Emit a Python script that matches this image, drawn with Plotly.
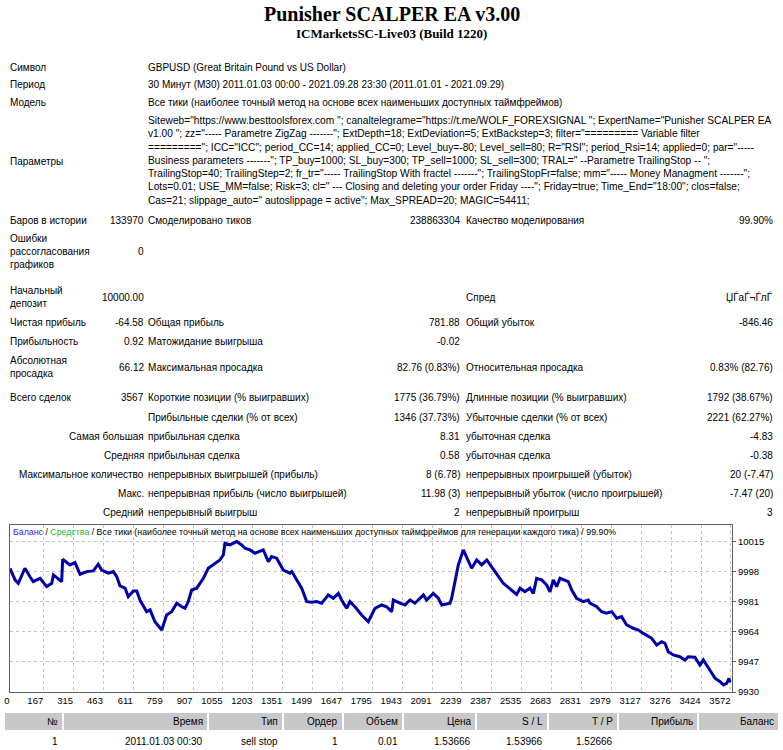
import plotly.graph_objects as go

W, H = 783, 750
SANS = "Tahoma, Liberation Sans, Arial, sans-serif"
SERIF = "Times New Roman, Liberation Serif, serif"

# ---------------- data ----------------
title = "Punisher SCALPER EA v3.00"
subtitle = "ICMarketsSC-Live03 (Build 1220)"

info_labels = ["Символ", "Период", "Модель"]
info_values = [
    "GBPUSD (Great Britain Pound vs US Dollar)",
    "30 Минут (M30) 2011.01.03 00:00 - 2021.09.28 23:30 (2011.01.01 - 2021.09.29)",
    "Все тики (наиболее точный метод на основе всех наименьших доступных таймфреймов)",
]

params_label = "Параметры"
params_lines = [
    'Siteweb="https://www.besttoolsforex.com "; canaltelegrame="https://t.me/WOLF_FOREXSIGNAL "; ExpertName="Punisher SCALPER EA',
    'v1.00 "; zz="----- Parametre ZigZag -------"; ExtDepth=18; ExtDeviation=5; ExtBackstep=3; filter="========= Variable filter',
    '========="; ICC="ICC"; period_CC=14; applied_CC=0; Level_buy=-80; Level_sell=80; R="RSI"; period_Rsi=14; applied=0; par="-----',
    'Business parameters -------"; TP_buy=1000; SL_buy=300; TP_sell=1000; SL_sell=300; TRAL=" --Parametre TrailingStop -- ";',
    'TrailingStop=40; TrailingStep=2; fr_tr="----- TrailingStop With fractel -------"; TrailingStopFr=false; mm="----- Money Managment -------";',
    'Lots=0.01; USE_MM=false; Risk=3; cl=" --- Closing and deleting your order Friday ----"; Friday=true; Time_End="18:00"; clos=false;',
    'Cas=21; slippage_auto=" autoslippage = active"; Max_SPREAD=20; MAGIC=54411;',
]

# stats rows: (label1, value1, label2, value2, label3, value3)
stats_rows = [
    ("Баров в истории", "133970", "Смоделировано тиков", "238863304", "Качество моделирования", "99.90%"),
    ("Ошибки<br>рассогласования<br>графиков", "0", "", "", "", ""),
    ("Начальный<br>депозит", "10000.00", "", "", "Спред", "ЏЃаЃ¬ЃлЃ"),
    ("Чистая прибыль", "-64.58", "Общая прибыль", "781.88", "Общий убыток", "-846.46"),
    ("Прибыльность", "0.92", "Матожидание выигрыша", "-0.02", "", ""),
    ("Абсолютная<br>просадка", "66.12", "Максимальная просадка", "82.76 (0.83%)", "Относительная просадка", "0.83% (82.76)"),
    ("Всего сделок", "3567", "Короткие позиции (% выигравших)", "1775 (36.79%)", "Длинные позиции (% выигравших)", "1792 (38.67%)"),
    ("", "", "Прибыльные сделки (% от всех)", "1346 (37.73%)", "Убыточные сделки (% от всех)", "2221 (62.27%)"),
    ("", "Самая большая", "прибыльная сделка", "8.31", "убыточная сделка", "-4.83"),
    ("", "Средняя", "прибыльная сделка", "0.58", "убыточная сделка", "-0.38"),
    ("", "Максимальное количество", "непрерывных выигрышей (прибыль)", "8 (6.78)", "непрерывных проигрышей (убыток)", "20 (-7.47)"),
    ("", "Макс.", "непрерывная прибыль (число выигрышей)", "11.98 (3)", "непрерывный убыток (число проигрышей)", "-7.47 (20)"),
    ("", "Средний", "непрерывный выигрыш", "2", "непрерывный проигрыш", "3"),
]

chart_legend_balance = "Баланс"
chart_legend_equity = "Средства"
chart_legend_rest = "Все тики (наиболее точный метод на основе всех наименьших доступных таймфреймов для генерации каждого тика) / 99.90%"

trade_no = [0, 25, 41, 74, 99, 115, 149, 182, 207, 215, 256, 261, 297, 322, 347, 380, 413, 437, 454, 487,
            512, 529, 545, 570, 586, 611, 628, 644, 677, 694, 718, 752, 760, 776, 801, 826, 851, 867, 883, 900,
            925, 941, 958, 982, 1007, 1040, 1057, 1065, 1090, 1123, 1148, 1164,
            1189, 1214, 1255, 1280, 1296, 1321, 1354, 1387, 1396, 1420, 1445, 1470, 1495, 1519, 1544, 1577, 1602, 1627,
            1643, 1668, 1684, 1709, 1742, 1775, 1808, 1841, 1866, 1891, 1899, 1932, 1957, 1982, 2006, 2048, 2064, 2097,
            2122, 2139, 2180, 2188, 2205, 2221, 2246, 2271, 2287, 2312, 2337, 2362, 2378, 2403, 2444,
            2510, 2527, 2551, 2576, 2593, 2609, 2634, 2659, 2675, 2692, 2708, 2725, 2766, 2783, 2807, 2840, 2865, 2873,
            2907, 2931, 2956, 2981, 3006, 3030, 3055, 3088, 3113, 3138, 3179, 3204, 3229, 3245, 3261, 3286, 3319, 3344,
            3360, 3393, 3418, 3435, 3460, 3493, 3518, 3534, 3551, 3562, 3567]
balance = [10000.0, 9993.5, 9991.6, 10000.1, 9995.3, 9992.5, 9994.4, 9989.7, 9991.6, 9996.3,
           9992.5, 10005.2, 10002.0, 10003.3, 9996.7, 9998.2, 9998.6, 10002.4, 9999.1, 9997.3,
           9998.2, 9995.3, 9990.1, 9988.8, 9984.0, 9987.2, 9987.2, 9982.1, 9975.5, 9976.5,
           9969.8, 9965.1, 9968.0, 9973.6, 9975.5, 9980.3, 9978.3, 9977.4, 9981.2, 9987.8,
           9988.8, 9991.6, 9994.4, 10000.1, 10002.0, 10004.8, 10007.6, 10014.3, 10013.3, 10015.2,
           10013.3, 10011.4,
           10010.5, 10008.6, 10010.5, 10003.8, 10006.7, 10005.8, 9999.1, 9997.3, 9998.2, 9993.5,
           9988.8, 9981.2, 9980.8, 9981.2, 9980.3, 9985.0, 9983.1, 9985.9, 9982.1, 9977.4,
           9981.2, 9978.3, 9973.6, 9969.8, 9977.4, 9979.3, 9978.3, 9975.5, 9982.1, 9980.3,
           9979.3, 9982.1, 9980.3, 9985.0, 9982.1, 9985.9, 9983.1, 9979.3, 9980.3, 9983.1,
           9992.5, 10002.0, 10010.5, 10003.8, 10000.1, 10004.8, 10002.0, 10004.8, 10002.0, 9998.2,
           9991.6,
           9985.3, 9988.8, 9986.8, 9988.8, 9985.9, 9994.4, 9993.5, 9990.6, 9986.8, 9993.5,
           9989.7, 9994.4, 9992.5, 9987.8, 9983.1, 9981.2, 9982.1, 9980.3, 9978.3, 9975.5,
           9974.6, 9975.5, 9971.8, 9972.7, 9968.0, 9966.1, 9965.1, 9963.2, 9960.4, 9956.6,
           9958.5, 9957.6, 9952.8, 9951.0, 9950.0, 9948.1, 9950.0, 9949.7, 9945.3, 9948.1,
           9943.4, 9937.8, 9935.8, 9934.0, 9934.9, 9937.8, 9935.4]

x_tick_labels = [0, 167, 315, 463, 611, 759, 907, 1055, 1203, 1351, 1499, 1647, 1795, 1943, 2091,
                 2239, 2387, 2535, 2683, 2831, 2979, 3127, 3276, 3424, 3572]
y_tick_values = [9930, 9947, 9964, 9981, 9998, 10015]

table_headers = ["№", "Время", "Тип", "Ордер", "Объем", "Цена", "S / L", "T / P", "Прибыль", "Баланс"]
table_row1 = ["1", "2011.01.03 00:30", "sell stop", "1", "0.01", "1.53666", "1.53966", "1.52666", "", ""]

# ---------------- layout helpers ----------------
def fx(x):
    return x / W

def fy(y):
    return 1 - y / H

ann = []
shapes = []

def text(x, y, s, anchor="left", size=10, family=SANS, color="black"):
    ann.append(dict(x=fx(x), y=fy(y), xref="paper", yref="paper", text=s, showarrow=False,
                    xanchor=anchor, yanchor="middle", align=anchor,
                    font=dict(family=family, size=size, color=color), borderpad=0))

# title block
text(W / 2, 14, "<b>" + title + "</b>", anchor="center", size=20, family=SERIF)
text(W / 2, 33, "<b>" + subtitle + "</b>", anchor="center", size=13, family=SERIF)

# info rows
for lab, val, y in zip(info_labels, info_values, [67, 85, 103]):
    text(9, y, lab)
    text(147, y, val)

text(9, 161, params_label)
text(147, 160, "<br>".join(params_lines), size=10.2)

row_y = [221, 251, 297, 322, 341, 367, 398, 417, 436, 455, 474, 493, 512]
for (l1, v1, l2, v2, l3, v3), y in zip(stats_rows, row_y):
    if l1:
        text(9, y, l1)
    if v1:
        text(145, y, v1, anchor="right")
    if l2:
        text(147, y, l2)
    if v2:
        text(461, y, v2, anchor="right")
    if l3:
        text(465, y, l3)
    if v3:
        text(774, y, v3, anchor="right")

# chart legend line inside frame
legend_html = ('<span style="color:#2b2bd6">' + chart_legend_balance + '</span> / '
               '<span style="color:#1fb81f">' + chart_legend_equity + '</span> / ' + chart_legend_rest)
text(12, 532, legend_html, size=8.8)

# table
cell_left = [5, 64, 209, 284, 344, 404, 477, 549, 619, 699]
cell_right = [62, 207, 282, 342, 402, 475, 547, 617, 697, 778]
for l, r, h, v in zip(cell_left, cell_right, table_headers, table_row1):
    shapes.append(dict(type="rect", xref="paper", yref="paper", x0=fx(l), x1=fx(r),
                       y0=fy(730), y1=fy(713), fillcolor="#c8c8c8", line=dict(width=0), layer="below"))
    text(r - 3, 721.5, h, anchor="right")
    if v:
        text(r - 3, 741, v, anchor="right")

# ---------------- chart ----------------
fig = go.Figure()
fig.add_trace(go.Scatter(x=trade_no, y=balance, mode="lines",
                         line=dict(color="#0000a8", width=3), hoverinfo="skip", showlegend=False))

grid = dict(showgrid=True, gridcolor="#c4c4c4", gridwidth=1, griddash="3px,3px")
fig.update_layout(
    width=W, height=H, autosize=False,
    margin=dict(l=0, r=0, t=0, b=0, pad=0),
    paper_bgcolor="white", plot_bgcolor="white",
    showlegend=False,
    annotations=ann, shapes=shapes,
    xaxis=dict(domain=[fx(10), fx(732)], range=[0, 3577], tickmode="array",
               tickvals=x_tick_labels, ticktext=[str(v) for v in x_tick_labels],
               ticks="", tickangle=0, ticklabelposition="outside left", zeroline=False,
               automargin=False,
               showline=True, mirror=True, linecolor="#606060", linewidth=1,
               tickfont=dict(family=SANS, size=9.5, color="black"), **grid),
    yaxis=dict(domain=[fy(692), fy(525)], range=[9930, 10024.6], side="right",
               tickmode="array", tickvals=y_tick_values, ticktext=[str(v) for v in y_tick_values],
               ticks="outside", ticklen=3, tickcolor="#606060", zeroline=False,
               automargin=False,
               showline=True, mirror=True, linecolor="#606060", linewidth=1,
               tickfont=dict(family=SANS, size=9.5, color="black"), **grid),
)

fig.write_html("out.html")
